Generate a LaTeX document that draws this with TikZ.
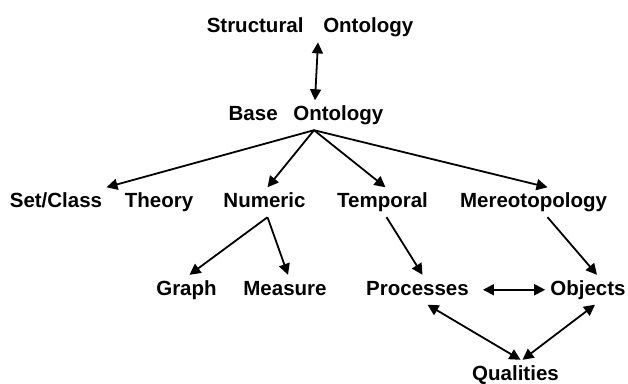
\documentclass[tikz,border=0pt]{standalone}
\usepackage{fontspec}
\setmainfont{Liberation Sans}
\usetikzlibrary{arrows.meta}

\tikzset{
	onto/.style={font=\bfseries\fontsize{20.5}{24}\selectfont, inner sep=5pt,
		text height=15pt, text depth=4.5pt, anchor=base},
	arr/.style={line width=1.8pt, -{Triangle[length=11pt,width=11pt]}},
	biarr/.style={line width=1.8pt, {Triangle[length=11pt,width=11pt]}-{Triangle[length=11pt,width=11pt]}}
}

\begin{document}
\begin{tikzpicture}[x=1pt,y=-1pt]
	\useasboundingbox (0,0) rectangle (628,383);

	\node[onto] (struct) at (310,32.7) {Structural\hspace{14pt} Ontology};
	\node[onto] (base) at (306,120.5) {Base\hspace{10pt} Ontology};

	\node[onto] (setclass) at (101.5,207.5) {Set/Class\hspace{17pt} Theory};
	\node[onto] (numeric) at (264.5,207.5) {Numeric};
	\node[onto] (temporal) at (382.5,207.5) {Temporal};
	\node[onto] (mereo) at (533.5,207.5) {Mereotopology};

	\node[onto] (graph) at (186.5,295) {Graph};
	\node[onto] (measure) at (285,295) {Measure};
	\node[onto] (proc) at (417.5,295) {Processes};
	\node[onto] (obj) at (588,295) {Objects};
	\node[onto] (qual) at (515.5,380) {Qualities};

	\coordinate (hub) at ([xshift=8pt]base.south);

	\draw[biarr] ([xshift=8pt]struct.south) -- ([xshift=9pt]base.north);

	\draw[arr] (hub) -- ([xshift=5pt]setclass.north);
	\draw[arr] (hub) -- ([xshift=3pt]numeric.north);
	\draw[arr] (hub) -- ([xshift=3pt]temporal.north);
	\draw[arr] (hub) -- ([xshift=14pt]mereo.north);

	\draw[arr] ([xshift=3pt]numeric.south) -- ([xshift=3pt]graph.north);
	\draw[arr] ([xshift=3pt]numeric.south) -- ([xshift=3pt]measure.north);
	\draw[arr] ([xshift=4pt]temporal.south) -- ([xshift=5pt]proc.north);
	\draw[arr] ([xshift=14pt]mereo.south) -- ([xshift=9pt]obj.north);

	% processes, objects, qualities
	\draw[biarr, shorten <=9pt] (proc.east) -- (obj.west);
	\draw[biarr] ([xshift=10pt]proc.south) -- ([xshift=5pt]qual.north);
	\draw[biarr] ([xshift=7pt]obj.south) -- ([xshift=7pt]qual.north);
\end{tikzpicture}
\end{document}
